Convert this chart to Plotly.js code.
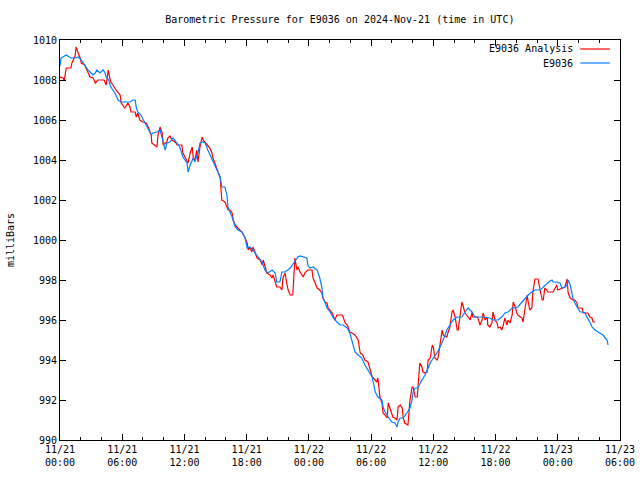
<!DOCTYPE html>
<html>
<head>
<meta charset="utf-8">
<script src="https://cdn.plot.ly/plotly-3.0.1.min.js"></script>
<style>html,body{margin:0;padding:0;background:#fff;}#chart{width:640px;height:480px;}</style>
</head>
<body>
<div id="chart"></div>
<script>
// hours since 2024-11-21 00:00 UTC
const analysisHours = [0.0,0.3,0.4,0.6,1.05,1.15,1.45,1.55,1.75,1.95,2.05,2.4,2.5,2.9,3.2,3.4,3.65,4.25,4.45,4.65,4.8,4.9,5.1,5.4,5.8,5.9,6.25,6.55,6.75,6.85,7.25,7.35,7.5,7.7,8.0,8.3,8.5,8.8,8.85,9.15,9.35,9.45,9.65,9.85,9.95,10.15,10.3,10.4,10.6,10.8,11.1,11.3,11.75,11.85,12.25,12.35,12.55,12.75,12.85,13.0,13.2,13.3,13.5,13.7,13.8,14.0,14.2,14.45,14.65,14.75,15.15,15.25,15.45,15.6,15.9,16.1,16.2,16.4,16.6,16.7,16.9,17.15,17.55,17.85,18.05,18.15,18.3,18.5,18.6,18.8,19.0,19.3,19.5,19.6,19.75,19.95,20.25,20.45,20.55,20.75,20.9,21.2,21.4,21.5,21.7,21.9,22.0,22.2,22.45,22.65,22.85,22.95,23.15,23.45,23.6,23.9,24.3,24.4,24.8,25.05,25.25,25.35,25.55,25.75,25.85,26.25,26.35,26.5,26.7,27.2,27.3,27.5,27.7,27.8,27.95,28.15,28.45,28.75,28.95,29.2,29.4,29.7,29.9,30.1,30.2,30.55,30.65,30.85,31.05,31.15,31.35,31.55,31.65,31.8,32.0,32.1,32.3,32.5,32.6,32.8,33.0,33.1,33.25,33.55,33.75,33.95,34.05,34.25,34.45,34.5,34.7,34.9,35.0,35.2,35.4,35.5,35.7,35.9,36.0,36.15,36.35,36.45,36.65,36.85,36.95,37.3,37.4,37.6,37.8,37.9,38.1,38.3,38.4,38.55,38.75,38.85,39.05,39.35,39.55,39.75,39.8,40.2,40.3,40.5,40.7,40.8,41.0,41.2,41.25,41.45,41.65,41.75,41.95,42.15,42.25,42.45,42.6,42.7,42.9,43.1,43.2,43.4,43.6,43.7,43.9,44.05,44.15,44.55,44.65,44.85,45.05,45.15,45.3,45.5,45.6,45.8,46.1,46.3,46.5,46.6,46.75,46.95,47.05,47.55,47.9,48.0,48.4,48.7,48.9,49.0,49.2,49.45,49.65,49.85,49.95,50.35,50.45,50.9,51.1,51.3,51.4,51.6];
const analysisValues = [1008.15,1008.1,1007.95,1008.6,1008.6,1008.85,1009.2,1009.65,1009.35,1009.1,1008.85,1008.75,1008.6,1008.15,1008.1,1007.85,1008.0,1008.0,1007.75,1008.5,1008.1,1007.9,1007.75,1007.5,1007.25,1006.85,1006.6,1006.85,1006.65,1006.4,1006.4,1006.15,1006.35,1006.0,1005.9,1005.85,1005.65,1005.25,1004.85,1004.75,1004.65,1005.25,1005.65,1005.35,1004.75,1004.85,1004.9,1005.1,1005.2,1005.0,1004.9,1004.75,1004.75,1004.35,1004.0,1003.85,1004.35,1004.65,1004.1,1004.0,1004.5,1003.9,1004.65,1005.15,1005.0,1004.9,1004.75,1004.6,1004.35,1004.1,1003.5,1003.35,1003.1,1002.0,1001.9,1001.65,1001.5,1001.5,1001.35,1001.0,1000.75,1000.6,1000.4,1000.1,999.85,999.5,999.65,999.4,999.65,999.4,999.1,999.0,998.75,999.0,998.65,998.35,998.25,998.1,998.25,997.9,997.65,997.65,997.5,998.1,998.35,997.75,997.5,997.25,997.25,999.1,998.5,998.65,998.4,998.15,998.35,998.5,998.5,998.1,997.6,997.5,997.35,997.1,996.9,996.85,996.6,996.35,996.15,996.0,996.25,996.25,996.15,995.85,995.75,995.6,995.4,995.35,995.25,995.0,994.35,994.25,994.0,993.9,993.5,993.15,993.1,992.9,993.1,992.15,991.85,991.35,991.25,991.1,991.85,991.6,991.35,991.15,991.1,991.0,991.65,991.75,991.6,991.1,990.85,990.75,992.0,992.65,992.65,992.15,992.15,992.6,993.85,993.65,993.4,993.35,993.4,994.0,994.1,994.75,994.65,994.1,994.0,994.1,994.85,995.5,995.25,995.15,995.35,995.65,996.4,996.5,996.15,995.5,995.5,996.15,996.9,996.75,996.35,996.15,996.0,996.4,996.15,996.15,996.1,995.75,996.0,996.35,996.0,996.15,995.75,995.65,995.85,996.4,996.0,995.85,995.6,995.65,995.5,995.65,996.1,995.75,996.0,995.85,996.25,996.9,996.65,996.35,996.25,996.1,995.9,996.6,997.25,996.9,996.5,996.6,997.4,998.05,998.05,997.5,997.0,997.0,997.6,997.5,997.4,997.4,997.75,997.5,997.6,997.65,998.05,997.35,997.1,997.0,997.0,996.85,996.6,996.6,996.35,996.35,996.15,996.1,995.9,995.9];

const stationHours = [0.0,0.1,0.6,1.05,1.45,1.75,2.05,2.4,2.7,3.0,3.2,3.4,3.55,3.85,4.15,4.35,4.45,4.7,4.9,5.3,5.6,5.9,6.35,6.75,7.05,7.25,7.35,7.5,7.8,8.2,8.5,8.8,8.95,9.35,9.65,9.95,10.15,10.3,10.6,10.9,11.3,11.55,11.85,12.25,12.35,12.55,12.85,13.0,13.3,13.5,13.7,14.0,14.25,14.75,15.15,15.45,15.6,15.9,16.1,16.2,16.6,16.9,17.15,17.55,17.85,18.05,18.3,18.6,19.1,19.5,19.75,20.05,20.45,20.75,20.9,21.2,21.4,21.7,22.2,22.65,22.95,23.15,23.45,23.8,23.9,24.1,24.4,24.8,25.05,25.25,25.35,25.55,25.75,26.05,26.35,26.7,27.0,27.3,27.7,27.95,28.25,28.45,28.75,29.1,29.4,29.7,30.1,30.2,30.4,30.65,31.05,31.15,31.35,31.55,31.65,32.0,32.3,32.5,32.6,32.8,33.1,33.45,33.75,33.95,34.05,34.25,34.5,34.9,35.2,35.5,35.7,36.0,36.35,36.65,36.95,37.3,37.6,37.9,38.3,38.75,39.05,39.35,39.75,40.0,40.8,41.2,41.45,41.75,42.25,42.6,42.9,43.2,43.6,43.9,44.15,44.55,44.85,45.15,45.5,45.8,46.3,46.6,46.95,47.25,47.45,47.55,47.9,48.2,48.4,48.7,48.9,49.0,49.2,49.35,49.45,49.65,49.85,50.15,50.45,50.65,50.8,51.1,51.3,51.6,52.05,52.35,52.75,52.85];
const stationValues = [1008.7,1009.1,1009.25,1009.1,1009.1,1009.15,1009.0,1008.75,1008.5,1008.35,1008.25,1008.35,1008.5,1008.35,1008.5,1008.35,1008.15,1008.0,1007.65,1007.35,1007.0,1006.9,1006.9,1006.9,1007.0,1007.0,1006.65,1006.4,1006.25,1005.85,1005.6,1005.25,1005.35,1005.4,1005.5,1004.85,1004.5,1004.85,1004.9,1005.1,1004.85,1004.65,1004.15,1003.85,1003.4,1003.75,1004.1,1003.9,1004.35,1004.85,1004.9,1004.85,1004.5,1003.9,1003.5,1003.15,1002.65,1002.65,1002.25,1001.65,1001.15,1000.65,1000.5,1000.4,1000.1,999.6,999.65,999.5,999.15,998.9,998.5,998.35,998.5,998.35,997.9,997.9,998.4,998.4,998.6,998.9,999.15,999.2,999.15,999.1,998.75,998.6,998.65,998.5,998.1,997.65,997.15,996.85,996.6,996.4,996.1,995.9,995.75,995.75,995.6,995.35,994.85,994.4,994.25,994.1,993.75,993.5,993.15,992.9,992.4,992.15,992.0,991.65,991.4,991.25,991.15,990.9,990.85,990.65,990.9,991.1,991.1,991.35,991.6,992.0,992.4,992.6,992.6,993.0,993.25,993.6,993.85,994.1,994.35,994.65,995.0,995.5,995.75,996.0,996.15,996.15,996.4,996.6,996.4,996.15,996.15,996.1,996.1,996.0,996.0,996.15,996.35,996.4,996.6,996.6,996.65,996.9,997.1,997.25,997.4,997.5,997.5,997.65,997.85,997.95,998.0,997.9,997.9,997.85,997.6,997.65,997.75,998.0,997.75,997.4,997.1,996.85,996.65,996.4,996.4,996.35,996.15,995.9,995.65,995.5,995.35,995.25,995.0,994.75];

const tickHours = [0,6,12,18,24,30,36,42,48,54];
const tickLabels = ["11/21<br>00:00","11/21<br>06:00","11/21<br>12:00","11/21<br>18:00","11/22<br>00:00","11/22<br>06:00","11/22<br>12:00","11/22<br>18:00","11/23<br>00:00","11/23<br>06:00"];
const seriesNames = ["E9036 Analysis","E9036"];
const seriesColors = ["#ff0000","#0080ff"];

const FONT = "DejaVu Sans Mono, Liberation Mono, monospace";

const traces = [
  {x: analysisHours, y: analysisValues, type: "scatter", mode: "lines", name: seriesNames[0],
   line: {color: seriesColors[0], width: 1.2}, showlegend: false},
  {x: stationHours, y: stationValues, type: "scatter", mode: "lines", name: seriesNames[1],
   line: {color: seriesColors[1], width: 1.2}, showlegend: false}
];

const legY = [0.9775, 0.9425];
const annotations = seriesNames.map((n, i) => ({
  text: n, xref: "paper", yref: "paper", x: 0.92, y: legY[i], xanchor: "right", yanchor: "middle",
  showarrow: false, font: {family: FONT, size: 10, color: "#000"}
}));
const shapes = seriesNames.map((n, i) => ({
  type: "line", xref: "paper", yref: "paper", x0: 0.929, x1: 0.982, y0: legY[i], y1: legY[i],
  line: {color: seriesColors[i], width: 1.2}
}));

const layout = {
  width: 640, height: 480,
  margin: {l: 60, r: 20, t: 40, b: 40},
  paper_bgcolor: "#fff", plot_bgcolor: "#fff",
  font: {family: FONT, size: 10, color: "#000"},
  title: {text: "Barometric Pressure for E9036 on 2024-Nov-21 (time in UTC)", x: 0.531, xanchor: "center", y: 0.96, yanchor: "middle",
          font: {family: FONT, size: 10, color: "#000"}},
  xaxis: {
    range: [0, 54], tickmode: "array", tickvals: tickHours, ticktext: tickLabels,
    showgrid: false, zeroline: false, showline: true, linecolor: "#000", linewidth: 1, mirror: "ticks",
    ticks: "inside", ticklen: 6, tickcolor: "#000",
    minor: {dtick: 2, tick0: 0, ticks: "inside", ticklen: 3, tickcolor: "#000", showgrid: false},
    tickfont: {family: FONT, size: 10, color: "#000"}
  },
  yaxis: {
    range: [990, 1010], dtick: 2, tick0: 990,
    showgrid: false, zeroline: false, showline: true, linecolor: "#000", linewidth: 1, mirror: "ticks",
    ticks: "inside", ticklen: 6, tickcolor: "#000",
    tickfont: {family: FONT, size: 10, color: "#000"},
    title: {text: "milliBars", standoff: 16, font: {family: FONT, size: 10, color: "#000"}}
  },
  annotations: annotations,
  shapes: shapes
};

Plotly.newPlot("chart", traces, layout, {displayModeBar: false, staticPlot: true});
</script>
</body>
</html>
